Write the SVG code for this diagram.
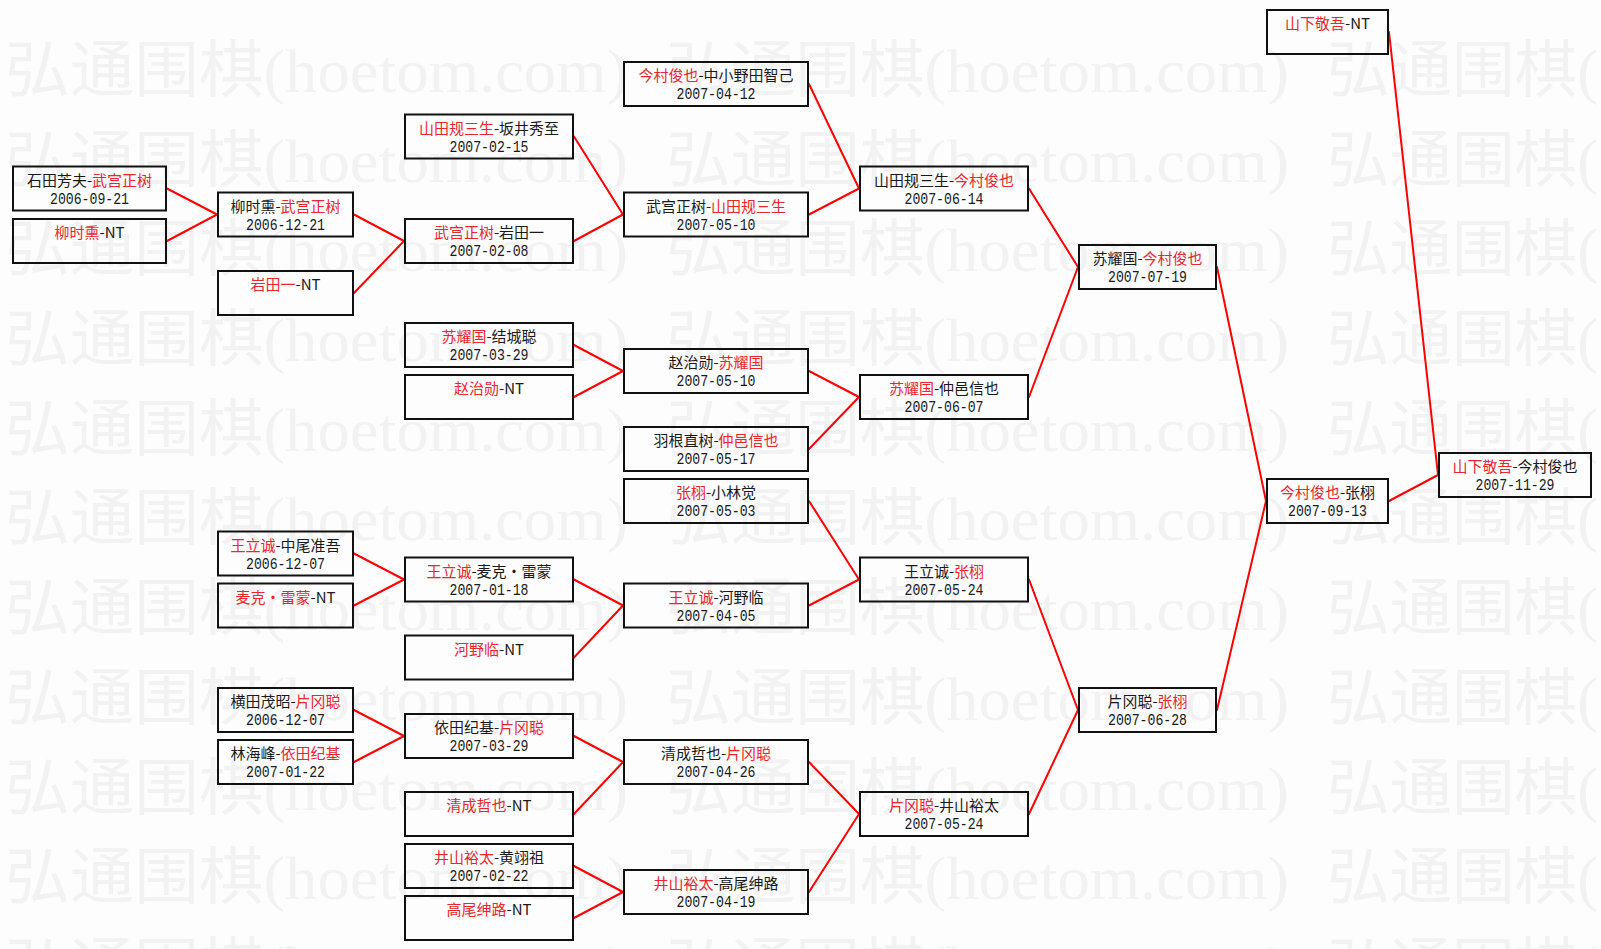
<svg xmlns="http://www.w3.org/2000/svg" width="1601" height="949" viewBox="0 0 1601 949">
<style>
.bg{fill:#fdfdfd}
.wm{font-family:"Liberation Serif","Noto Sans CJK SC",serif;font-size:62px;fill:#f2f2f2}
.box{fill:none;stroke:#111;stroke-width:2}
.t{font-family:"Noto Sans CJK SC",sans-serif;font-size:15px;fill:#1a1a1a;text-anchor:middle}
.r{fill:#e8262e}
.d{font-family:"Liberation Mono",monospace;font-size:16px;fill:#1a1a1a;text-anchor:middle}
#connectors line{stroke:#f00;stroke-width:2;stroke-linecap:round}
</style>
<rect class="bg" x="0" y="0" width="1601" height="949"/>
<g id="watermark" class="wm">
<text x="5" y="92" textLength="623" lengthAdjust="spacingAndGlyphs">弘通围棋(hoetom.com)</text><text x="666" y="92" textLength="623" lengthAdjust="spacingAndGlyphs">弘通围棋(hoetom.com)</text><text x="1327" y="92" textLength="271" lengthAdjust="spacingAndGlyphs">弘通围棋(</text>
<text x="5" y="182" textLength="623" lengthAdjust="spacingAndGlyphs">弘通围棋(hoetom.com)</text><text x="666" y="182" textLength="623" lengthAdjust="spacingAndGlyphs">弘通围棋(hoetom.com)</text><text x="1327" y="182" textLength="271" lengthAdjust="spacingAndGlyphs">弘通围棋(</text>
<text x="5" y="271" textLength="623" lengthAdjust="spacingAndGlyphs">弘通围棋(hoetom.com)</text><text x="666" y="271" textLength="623" lengthAdjust="spacingAndGlyphs">弘通围棋(hoetom.com)</text><text x="1327" y="271" textLength="271" lengthAdjust="spacingAndGlyphs">弘通围棋(</text>
<text x="5" y="361" textLength="623" lengthAdjust="spacingAndGlyphs">弘通围棋(hoetom.com)</text><text x="666" y="361" textLength="623" lengthAdjust="spacingAndGlyphs">弘通围棋(hoetom.com)</text><text x="1327" y="361" textLength="271" lengthAdjust="spacingAndGlyphs">弘通围棋(</text>
<text x="5" y="451" textLength="623" lengthAdjust="spacingAndGlyphs">弘通围棋(hoetom.com)</text><text x="666" y="451" textLength="623" lengthAdjust="spacingAndGlyphs">弘通围棋(hoetom.com)</text><text x="1327" y="451" textLength="271" lengthAdjust="spacingAndGlyphs">弘通围棋(</text>
<text x="5" y="540" textLength="623" lengthAdjust="spacingAndGlyphs">弘通围棋(hoetom.com)</text><text x="666" y="540" textLength="623" lengthAdjust="spacingAndGlyphs">弘通围棋(hoetom.com)</text><text x="1327" y="540" textLength="271" lengthAdjust="spacingAndGlyphs">弘通围棋(</text>
<text x="5" y="630" textLength="623" lengthAdjust="spacingAndGlyphs">弘通围棋(hoetom.com)</text><text x="666" y="630" textLength="623" lengthAdjust="spacingAndGlyphs">弘通围棋(hoetom.com)</text><text x="1327" y="630" textLength="271" lengthAdjust="spacingAndGlyphs">弘通围棋(</text>
<text x="5" y="720" textLength="623" lengthAdjust="spacingAndGlyphs">弘通围棋(hoetom.com)</text><text x="666" y="720" textLength="623" lengthAdjust="spacingAndGlyphs">弘通围棋(hoetom.com)</text><text x="1327" y="720" textLength="271" lengthAdjust="spacingAndGlyphs">弘通围棋(</text>
<text x="5" y="810" textLength="623" lengthAdjust="spacingAndGlyphs">弘通围棋(hoetom.com)</text><text x="666" y="810" textLength="623" lengthAdjust="spacingAndGlyphs">弘通围棋(hoetom.com)</text><text x="1327" y="810" textLength="271" lengthAdjust="spacingAndGlyphs">弘通围棋(</text>
<text x="5" y="899" textLength="623" lengthAdjust="spacingAndGlyphs">弘通围棋(hoetom.com)</text><text x="666" y="899" textLength="623" lengthAdjust="spacingAndGlyphs">弘通围棋(hoetom.com)</text><text x="1327" y="899" textLength="271" lengthAdjust="spacingAndGlyphs">弘通围棋(</text>
<text x="5" y="989" textLength="623" lengthAdjust="spacingAndGlyphs">弘通围棋(hoetom.com)</text><text x="666" y="989" textLength="623" lengthAdjust="spacingAndGlyphs">弘通围棋(hoetom.com)</text><text x="1327" y="989" textLength="271" lengthAdjust="spacingAndGlyphs">弘通围棋(</text>
</g>
<g id="connectors">
<line x1="167" y1="188.5" x2="217" y2="214.5"/>
<line x1="167" y1="241" x2="217" y2="214.5"/>
<line x1="354" y1="214.5" x2="404" y2="241"/>
<line x1="354" y1="293" x2="404" y2="241"/>
<line x1="354" y1="553.5" x2="404" y2="579.5"/>
<line x1="354" y1="605.5" x2="404" y2="579.5"/>
<line x1="354" y1="710" x2="404" y2="736"/>
<line x1="354" y1="762" x2="404" y2="736"/>
<line x1="574" y1="136.5" x2="623" y2="214.5"/>
<line x1="574" y1="241" x2="623" y2="214.5"/>
<line x1="574" y1="345" x2="623" y2="371"/>
<line x1="574" y1="397" x2="623" y2="371"/>
<line x1="574" y1="579.5" x2="623" y2="605.5"/>
<line x1="574" y1="657.5" x2="623" y2="605.5"/>
<line x1="574" y1="736" x2="623" y2="762"/>
<line x1="574" y1="814" x2="623" y2="762"/>
<line x1="574" y1="866" x2="623" y2="892"/>
<line x1="574" y1="918" x2="623" y2="892"/>
<line x1="809" y1="84" x2="859" y2="188.5"/>
<line x1="809" y1="214.5" x2="859" y2="188.5"/>
<line x1="809" y1="371" x2="859" y2="397"/>
<line x1="809" y1="449" x2="859" y2="397"/>
<line x1="809" y1="501" x2="859" y2="579.5"/>
<line x1="809" y1="605.5" x2="859" y2="579.5"/>
<line x1="809" y1="762" x2="859" y2="814"/>
<line x1="809" y1="892" x2="859" y2="814"/>
<line x1="1029" y1="188.5" x2="1078" y2="267"/>
<line x1="1029" y1="397" x2="1078" y2="267"/>
<line x1="1029" y1="579.5" x2="1078" y2="710"/>
<line x1="1029" y1="814" x2="1078" y2="710"/>
<line x1="1217" y1="267" x2="1266" y2="501"/>
<line x1="1217" y1="710" x2="1266" y2="501"/>
<line x1="1389" y1="32" x2="1438" y2="475"/>
<line x1="1389" y1="501" x2="1438" y2="475"/>
</g>
<!-- column 1 -->
<g id="n-shitian-wugong"><rect class="box" x="13" y="166.5" width="153" height="44"/><text class="t" x="89.5" y="185.5">石田芳夫-<tspan class="r">武宫正树</tspan></text><text class="d" x="89.5" y="203.5" textLength="79" lengthAdjust="spacingAndGlyphs">2006-09-21</text></g>
<g id="n-liushixun-nt"><rect class="box" x="13" y="219" width="153" height="44"/><text class="t" x="89.5" y="238"><tspan class="r">柳时熏</tspan>-NT</text></g>
<!-- column 2 -->
<g id="n-liushixun-wugong"><rect class="box" x="218" y="192.5" width="135" height="44"/><text class="t" x="285.5" y="211.5">柳时熏-<tspan class="r">武宫正树</tspan></text><text class="d" x="285.5" y="229.5" textLength="79" lengthAdjust="spacingAndGlyphs">2006-12-21</text></g>
<g id="n-yantian-nt"><rect class="box" x="218" y="271" width="135" height="44"/><text class="t" x="285.5" y="290"><tspan class="r">岩田一</tspan>-NT</text></g>
<g id="n-wanglicheng-zhongwei"><rect class="box" x="218" y="531.5" width="135" height="44"/><text class="t" x="285.5" y="550.5"><tspan class="r">王立诚</tspan>-中尾准吾</text><text class="d" x="285.5" y="568.5" textLength="79" lengthAdjust="spacingAndGlyphs">2006-12-07</text></g>
<g id="n-maike-nt"><rect class="box" x="218" y="583.5" width="135" height="44"/><text class="t" x="285.5" y="602.5"><tspan class="r">麦克・雷蒙</tspan>-NT</text></g>
<g id="n-hengtian-pianggang"><rect class="box" x="218" y="688" width="135" height="44"/><text class="t" x="285.5" y="707">横田茂昭-<tspan class="r">片冈聪</tspan></text><text class="d" x="285.5" y="725" textLength="79" lengthAdjust="spacingAndGlyphs">2006-12-07</text></g>
<g id="n-linhaifeng-yitian"><rect class="box" x="218" y="740" width="135" height="44"/><text class="t" x="285.5" y="759">林海峰-<tspan class="r">依田纪基</tspan></text><text class="d" x="285.5" y="777" textLength="79" lengthAdjust="spacingAndGlyphs">2007-01-22</text></g>
<!-- column 3 -->
<g id="n-shantian-banjing"><rect class="box" x="405" y="114.5" width="168" height="44"/><text class="t" x="489" y="133.5"><tspan class="r">山田规三生</tspan>-坂井秀至</text><text class="d" x="489" y="151.5" textLength="79" lengthAdjust="spacingAndGlyphs">2007-02-15</text></g>
<g id="n-wugong-yantian"><rect class="box" x="405" y="219" width="168" height="44"/><text class="t" x="489" y="238"><tspan class="r">武宫正树</tspan>-岩田一</text><text class="d" x="489" y="256" textLength="79" lengthAdjust="spacingAndGlyphs">2007-02-08</text></g>
<g id="n-suyaoguo-jiecheng"><rect class="box" x="405" y="323" width="168" height="44"/><text class="t" x="489" y="342"><tspan class="r">苏耀国</tspan>-结城聪</text><text class="d" x="489" y="360" textLength="79" lengthAdjust="spacingAndGlyphs">2007-03-29</text></g>
<g id="n-zhaozhixun-nt"><rect class="box" x="405" y="375" width="168" height="44"/><text class="t" x="489" y="394"><tspan class="r">赵治勋</tspan>-NT</text></g>
<g id="n-wanglicheng-maike"><rect class="box" x="405" y="557.5" width="168" height="44"/><text class="t" x="489" y="576.5"><tspan class="r">王立诚</tspan>-麦克・雷蒙</text><text class="d" x="489" y="594.5" textLength="79" lengthAdjust="spacingAndGlyphs">2007-01-18</text></g>
<g id="n-heyelin-nt"><rect class="box" x="405" y="635.5" width="168" height="44"/><text class="t" x="489" y="654.5"><tspan class="r">河野临</tspan>-NT</text></g>
<g id="n-yitian-pianggang"><rect class="box" x="405" y="714" width="168" height="44"/><text class="t" x="489" y="733">依田纪基-<tspan class="r">片冈聪</tspan></text><text class="d" x="489" y="751" textLength="79" lengthAdjust="spacingAndGlyphs">2007-03-29</text></g>
<g id="n-qingcheng-nt"><rect class="box" x="405" y="792" width="168" height="44"/><text class="t" x="489" y="811"><tspan class="r">清成哲也</tspan>-NT</text></g>
<g id="n-jingshan-huang"><rect class="box" x="405" y="844" width="168" height="44"/><text class="t" x="489" y="863"><tspan class="r">井山裕太</tspan>-黄翊祖</text><text class="d" x="489" y="881" textLength="79" lengthAdjust="spacingAndGlyphs">2007-02-22</text></g>
<g id="n-gaowei-nt"><rect class="box" x="405" y="896" width="168" height="44"/><text class="t" x="489" y="915"><tspan class="r">高尾绅路</tspan>-NT</text></g>
<!-- column 4 -->
<g id="n-jincun-zhongxiaoye"><rect class="box" x="624" y="62" width="184" height="44"/><text class="t" x="716" y="81"><tspan class="r">今村俊也</tspan>-中小野田智己</text><text class="d" x="716" y="99" textLength="79" lengthAdjust="spacingAndGlyphs">2007-04-12</text></g>
<g id="n-wugong-shantian"><rect class="box" x="624" y="192.5" width="184" height="44"/><text class="t" x="716" y="211.5">武宫正树-<tspan class="r">山田规三生</tspan></text><text class="d" x="716" y="229.5" textLength="79" lengthAdjust="spacingAndGlyphs">2007-05-10</text></g>
<g id="n-zhaozhixun-suyaoguo"><rect class="box" x="624" y="349" width="184" height="44"/><text class="t" x="716" y="368">赵治勋-<tspan class="r">苏耀国</tspan></text><text class="d" x="716" y="386" textLength="79" lengthAdjust="spacingAndGlyphs">2007-05-10</text></g>
<g id="n-yugen-zhongyi"><rect class="box" x="624" y="427" width="184" height="44"/><text class="t" x="716" y="446">羽根直树-<tspan class="r">仲邑信也</tspan></text><text class="d" x="716" y="464" textLength="79" lengthAdjust="spacingAndGlyphs">2007-05-17</text></g>
<g id="n-zhangxu-xiaolin"><rect class="box" x="624" y="479" width="184" height="44"/><text class="t" x="716" y="498"><tspan class="r">张栩</tspan>-小林觉</text><text class="d" x="716" y="516" textLength="79" lengthAdjust="spacingAndGlyphs">2007-05-03</text></g>
<g id="n-wanglicheng-heyelin"><rect class="box" x="624" y="583.5" width="184" height="44"/><text class="t" x="716" y="602.5"><tspan class="r">王立诚</tspan>-河野临</text><text class="d" x="716" y="620.5" textLength="79" lengthAdjust="spacingAndGlyphs">2007-04-05</text></g>
<g id="n-qingcheng-pianggang"><rect class="box" x="624" y="740" width="184" height="44"/><text class="t" x="716" y="759">清成哲也-<tspan class="r">片冈聪</tspan></text><text class="d" x="716" y="777" textLength="79" lengthAdjust="spacingAndGlyphs">2007-04-26</text></g>
<g id="n-jingshan-gaowei"><rect class="box" x="624" y="870" width="184" height="44"/><text class="t" x="716" y="889"><tspan class="r">井山裕太</tspan>-高尾绅路</text><text class="d" x="716" y="907" textLength="79" lengthAdjust="spacingAndGlyphs">2007-04-19</text></g>
<!-- column 5 -->
<g id="n-shantian-jincun"><rect class="box" x="860" y="166.5" width="168" height="44"/><text class="t" x="944" y="185.5">山田规三生-<tspan class="r">今村俊也</tspan></text><text class="d" x="944" y="203.5" textLength="79" lengthAdjust="spacingAndGlyphs">2007-06-14</text></g>
<g id="n-suyaoguo-zhongyi"><rect class="box" x="860" y="375" width="168" height="44"/><text class="t" x="944" y="394"><tspan class="r">苏耀国</tspan>-仲邑信也</text><text class="d" x="944" y="412" textLength="79" lengthAdjust="spacingAndGlyphs">2007-06-07</text></g>
<g id="n-wanglicheng-zhangxu"><rect class="box" x="860" y="557.5" width="168" height="44"/><text class="t" x="944" y="576.5">王立诚-<tspan class="r">张栩</tspan></text><text class="d" x="944" y="594.5" textLength="79" lengthAdjust="spacingAndGlyphs">2007-05-24</text></g>
<g id="n-pianggang-jingshan"><rect class="box" x="860" y="792" width="168" height="44"/><text class="t" x="944" y="811"><tspan class="r">片冈聪</tspan>-井山裕太</text><text class="d" x="944" y="829" textLength="79" lengthAdjust="spacingAndGlyphs">2007-05-24</text></g>
<!-- column 6 -->
<g id="n-suyaoguo-jincun"><rect class="box" x="1079" y="245" width="137" height="44"/><text class="t" x="1147.5" y="264">苏耀国-<tspan class="r">今村俊也</tspan></text><text class="d" x="1147.5" y="282" textLength="79" lengthAdjust="spacingAndGlyphs">2007-07-19</text></g>
<g id="n-pianggang-zhangxu"><rect class="box" x="1079" y="688" width="137" height="44"/><text class="t" x="1147.5" y="707">片冈聪-<tspan class="r">张栩</tspan></text><text class="d" x="1147.5" y="725" textLength="79" lengthAdjust="spacingAndGlyphs">2007-06-28</text></g>
<!-- column 7 -->
<g id="n-shanxia-nt"><rect class="box" x="1267" y="10" width="121" height="44"/><text class="t" x="1327.5" y="29"><tspan class="r">山下敬吾</tspan>-NT</text></g>
<g id="n-jincun-zhangxu"><rect class="box" x="1267" y="479" width="121" height="44"/><text class="t" x="1327.5" y="498"><tspan class="r">今村俊也</tspan>-张栩</text><text class="d" x="1327.5" y="516" textLength="79" lengthAdjust="spacingAndGlyphs">2007-09-13</text></g>
<!-- column 8 -->
<g id="n-shanxia-jincun"><rect class="box" x="1439" y="453" width="152" height="44"/><text class="t" x="1515" y="472"><tspan class="r">山下敬吾</tspan>-今村俊也</text><text class="d" x="1515" y="490" textLength="79" lengthAdjust="spacingAndGlyphs">2007-11-29</text></g>
</svg>
